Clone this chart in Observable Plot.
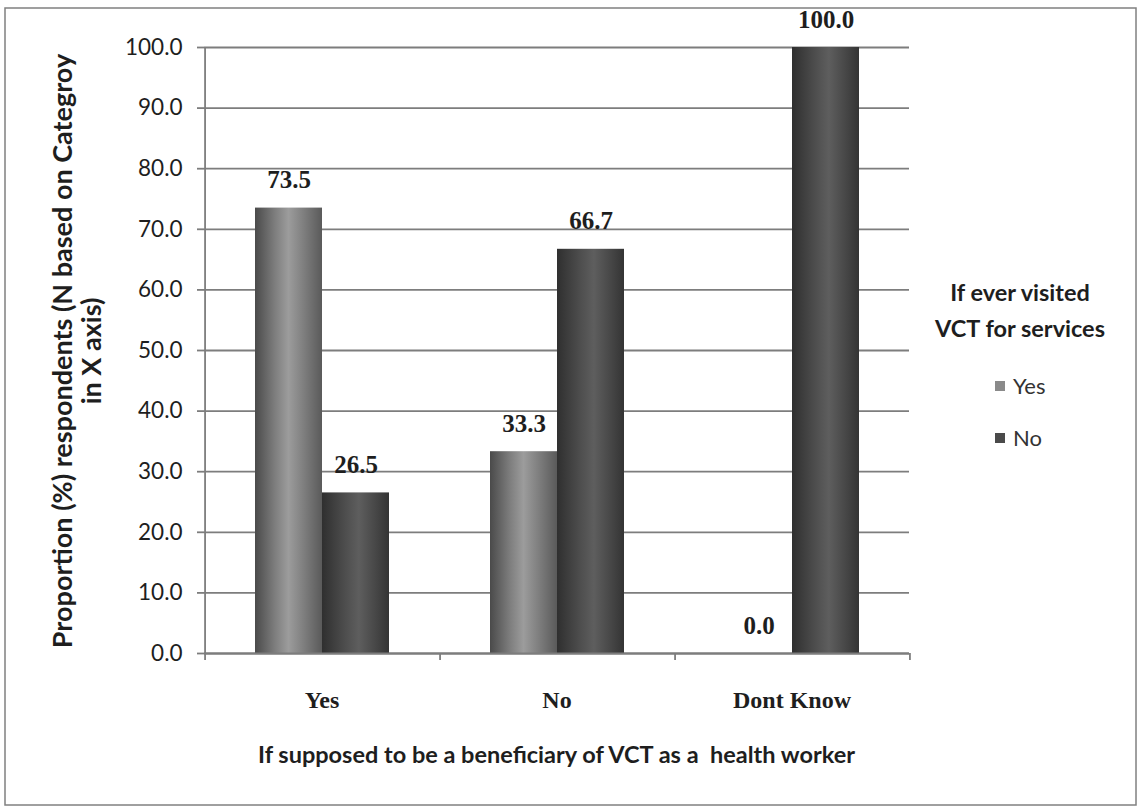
<!DOCTYPE html>
<html>
<head>
<meta charset="utf-8">
<script src="https://cdn.jsdelivr.net/npm/d3@7"></script>
<script src="https://cdn.jsdelivr.net/npm/@observablehq/plot@0.6"></script>
<style>
  html, body { margin: 0; padding: 0; background: #ffffff; }
  #chart { width: 1140px; height: 811px; }
</style>
</head>
<body>
<div id="chart"></div>
<script>
// ---- data ----
const categories = ["Yes", "No", "Dont Know"];
const seriesNames = ["Yes", "No"];
const yesValues = [73.5, 33.3, 0.0];
const noValues = [26.5, 66.7, 100.0];
const yTicks = [0, 10, 20, 30, 40, 50, 60, 70, 80, 90, 100];
const xTitle = "If supposed to be a beneficiary of VCT as a  health worker";
const yTitleLines = ["Proportion (%) respondents (N based on Categroy", "in X axis)"];
const legendTitleLines = ["If ever visited", "VCT for services"];

const data = categories.flatMap((c, i) => [
  {category: c, series: "Yes", value: yesValues[i]},
  {category: c, series: "No", value: noValues[i]}
]);

// ---- layout ----
const W = 1140, H = 811;
const mL = 204, mR = 231, mT = 47, mB = 158;
const padOuter = 0.75;
const facetW = (W - mL - mR) / categories.length;
const step = facetW / (seriesNames.length + 2 * padOuter);
const edgeOffset = step * (padOuter + 0.5);

const ink = "#1e1e1e";
const gridColor = "#7d7d7d";
const sans = "Lato, 'Open Sans', sans-serif";
const serif = "'Liberation Serif', 'DejaVu Serif', serif";

const plot = Plot.plot({
  width: W, height: H,
  marginLeft: mL, marginRight: mR, marginTop: mT, marginBottom: mB,
  style: {background: "transparent", color: ink},
  fx: {domain: categories, padding: 0, label: null},
  x: {domain: seriesNames, paddingInner: 0, paddingOuter: padOuter, axis: null},
  y: {domain: [0, 100], axis: null},
  color: {domain: seriesNames, range: ["url(#gradYes)", "url(#gradNo)"]},
  marks: [
    Plot.gridY(yTicks, {stroke: gridColor, strokeOpacity: 1, strokeWidth: 1.8}),
    Plot.barY(data, {fx: "category", x: "series", y: "value", fill: "series"}),
    Plot.ruleY([0], {stroke: gridColor, strokeWidth: 1.8}),
    // y-axis line
    Plot.ruleX(data.filter(d => d.category === categories[0] && d.series === seriesNames[0]),
      {fx: "category", x: "series", y1: 100, y2: 0, dx: -edgeOffset, stroke: gridColor, strokeWidth: 1.8}),
    // category boundary ticks
    Plot.ruleX(data.filter(d => d.series === seriesNames[0]),
      {fx: "category", x: "series", y1: 0, y2: 0, insetBottom: -7, dx: -edgeOffset, stroke: gridColor, strokeWidth: 1.8}),
    Plot.ruleX(data.filter(d => d.category === categories[categories.length - 1] && d.series === seriesNames[1]),
      {fx: "category", x: "series", y1: 0, y2: 0, insetBottom: -7, dx: edgeOffset, stroke: gridColor, strokeWidth: 1.8}),
    Plot.text(data, {
      fx: "category", x: "series", y: "value",
      text: d => d.value.toFixed(1), dy: -28,
      fontFamily: serif, fontWeight: "bold", fontSize: 25, fill: ink
    }),
    Plot.axisY(yTicks, {
      tickSize: 7, tickPadding: 15, stroke: gridColor, strokeWidth: 1.8,
      tickFormat: d => d.toFixed(1), fontSize: 22.5, fontFamily: sans, fill: ink, label: null
    }),
    Plot.axisFx({
      anchor: "bottom", tickSize: 0, tickPadding: 37, label: null,
      fontFamily: serif, fontWeight: "bold", fontSize: 24, fill: ink
    })
  ]
});

// gradients for the bar fills
const svg = d3.select(plot);
const defs = svg.insert("defs", ":first-child");
function grad(id, stops) {
  const g = defs.append("linearGradient").attr("id", id)
    .attr("x1", "0").attr("x2", "1").attr("y1", "0").attr("y2", "0");
  stops.forEach(([o, c]) => g.append("stop").attr("offset", o).attr("stop-color", c));
}
grad("gradYes", [[0, "#4a4a4a"], [0.3, "#7e7e7e"], [0.5, "#9c9c9c"], [0.7, "#828282"], [1, "#5a5a5a"]]);
grad("gradNo", [[0, "#2f2f2f"], [0.35, "#4e4e4e"], [0.55, "#5e5e5e"], [0.8, "#474747"], [1, "#343434"]]);

// outer border
svg.insert("rect", "defs + *")
  .attr("x", 5).attr("y", 8).attr("width", 1131).attr("height", 797)
  .attr("fill", "none").attr("stroke", "#808080").attr("stroke-width", 1.5);

// axis titles
svg.append("text")
  .attr("x", mL + (W - mL - mR) / 2).attr("y", 755).attr("dy", "0.35em")
  .attr("text-anchor", "middle")
  .attr("font-family", sans).attr("font-weight", "bold").attr("font-size", 23.5)
  .attr("fill", ink).text(xTitle);

const yt = svg.append("text")
  .attr("transform", `translate(63,351) rotate(-90)`)
  .attr("text-anchor", "middle")
  .attr("font-family", sans).attr("font-weight", "bold").attr("font-size", 27)
  .attr("fill", ink);
yTitleLines.forEach((line, i) => {
  yt.append("tspan").attr("x", 0).attr("y", i * 29).attr("dy", "0.35em").text(line);
});

// legend
const lg = svg.append("g");
legendTitleLines.forEach((line, i) => {
  lg.append("text")
    .attr("x", 1020).attr("y", 293 + i * 36).attr("dy", "0.35em")
    .attr("text-anchor", "middle")
    .attr("font-family", sans).attr("font-weight", "bold").attr("font-size", 23.5)
    .attr("fill", ink).text(line);
});
const swatchColors = ["#8a8a8a", "#4a4a4a"];
seriesNames.forEach((s, i) => {
  const y = 386 + i * 52;
  lg.append("rect").attr("x", 995).attr("y", y - 5).attr("width", 10).attr("height", 10)
    .attr("fill", swatchColors[i]);
  lg.append("text").attr("x", 1013).attr("y", y).attr("dy", "0.35em")
    .attr("text-anchor", "start")
    .attr("font-family", sans).attr("font-size", 22)
    .attr("fill", "#333").text(s);
});

document.getElementById("chart").appendChild(plot);
</script>
</body>
</html>
